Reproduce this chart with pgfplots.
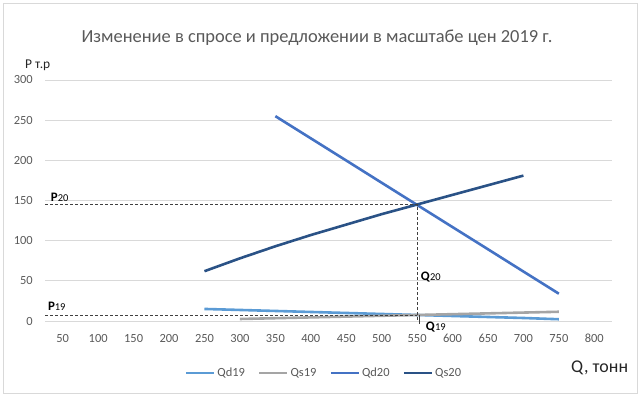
\documentclass[border=0pt]{standalone}
\usepackage{fontspec}
\setmainfont{Carlito}
\usepackage{pgfplots}
\pgfplotsset{compat=1.18}
\definecolor{cQdA}{HTML}{5B9BD5}
\definecolor{cQsA}{HTML}{A5A5A5}
\definecolor{cQdB}{HTML}{4472C4}
\definecolor{cQsB}{HTML}{2A5286}
\definecolor{gridgray}{HTML}{D9D9D9}
\definecolor{tickgray}{HTML}{595959}
\definecolor{dashgray}{HTML}{404040}
\begin{document}
\begin{tikzpicture}[x=1bp,y=1bp]
\path[use as bounding box] (0,0) rectangle (640,396);
\draw[color=gridgray, line width=0.75bp] (3,3) rectangle (637,393);
\node[anchor=base, text=tickgray, inner sep=0, font=\fontsize{18.5}{20}\selectfont] at (317,354) {Изменение в спросе и предложении в масштабе цен 2019 г.};
\node[anchor=base west, inner sep=0, text=black!85, font=\fontsize{13.5}{15}\selectfont] at (25,328) {Р т.р};
\node[anchor=base west, inner sep=0, text=black!85, font=\fontsize{18}{20}\selectfont] at (571,24) {Q, тонн};
\begin{axis}[at={(45bp,75bp)}, anchor=south west, scale only axis, width=567bp, height=241bp,
 xmin=25, xmax=825, ymin=0, ymax=300,
 xtick={50,100,...,800}, ytick={0,50,...,300},
 ymajorgrids, grid style={gridgray, line width=0.75bp},
 axis line style={draw=none}, major tick length=0,
 tick label style={text=tickgray, font=\fontsize{12.5}{14}\selectfont, inner sep=0},
 xticklabel style={anchor=base, yshift=-21.5bp},
 yticklabel style={anchor=east, xshift=-12bp},
 /pgf/number format/assume math mode=true,
 /pgf/number format/1000 sep={},
 clip=false,
 legend style={at={(axis description cs:0.492,-0.216)}, anchor=center, legend columns=4, draw=none, fill=none,
   font=\fontsize{12.5}{14}\selectfont, text=tickgray, inner sep=0,
   /tikz/every even column/.append style={column sep=11bp}},
 legend cell align=left,
 legend image code/.code={\draw[#1] (0bp,0bp) -- (28bp,0bp);},
]
\addplot[cQdA, line width=2.6bp] coordinates {(250,15) (300,13.75) (350,12.5) (400,11.25) (450,10) (500,8.75) (550,7.5) (600,6.25) (650,5) (700,3.75) (750,2.2)};
\addlegendentry{Qd19}
\addplot[cQsA, line width=2.6bp] coordinates {(300,2.5) (350,3.5) (400,4.5) (450,5.5) (500,6.5) (550,7.5) (600,8.5) (650,9.5) (700,10.5) (750,11.5)};
\addlegendentry{Qs19}
\addplot[cQdB, line width=2.6bp] coordinates {(350,255) (400,227.4) (450,199.8) (500,172.1) (550,144.5) (600,116.9) (650,89.3) (700,61.6) (750,34)};
\addlegendentry{Qd20}
\addplot[cQsB, line width=2.6bp] coordinates {(250,62) (300,78) (350,93) (400,107) (450,120) (500,133) (550,145) (600,157) (650,169) (700,181)};
\addlegendentry{Qs20}
\addplot[forget plot, dashgray, line width=0.75bp, dash pattern=on 3bp off 2bp] coordinates {(25,145) (550,145) (550,0)};
\addplot[forget plot, dashgray, line width=0.75bp, dash pattern=on 3bp off 2bp] coordinates {(25,7.5) (550,7.5)};
\addplot[forget plot, dashgray, line width=0.75bp] coordinates {(553,7.5) (553,-4)};
\node[anchor=base west, inner sep=0, font=\fontsize{13}{14}\selectfont] at (axis cs:33,149) {\textbf{P}{\fontsize{10.5}{12}\selectfont 20}};
\node[anchor=base west, inner sep=0, font=\fontsize{13}{14}\selectfont] at (axis cs:29,12.5) {\textbf{P}{\fontsize{10.5}{12}\selectfont 19}};
\node[anchor=base west, inner sep=0, font=\fontsize{13}{14}\selectfont] at (axis cs:555,50) {\textbf{Q}{\fontsize{10.5}{12}\selectfont 20}};
\node[anchor=base west, inner sep=0, font=\fontsize{13}{14}\selectfont] at (axis cs:562,-12) {\textbf{Q}{\fontsize{10.5}{12}\selectfont 19}};
\end{axis}
\end{tikzpicture}
\end{document}
